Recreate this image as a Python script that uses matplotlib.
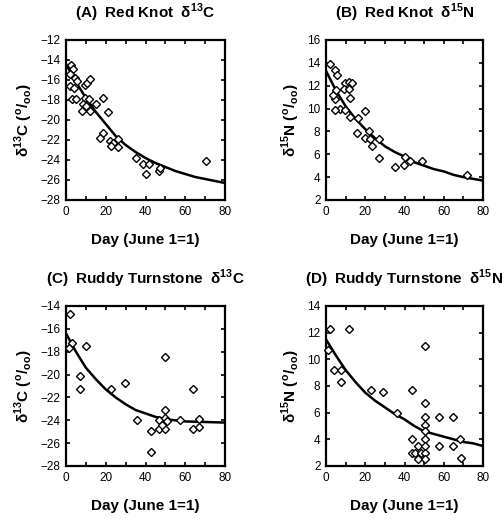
import numpy as np
import matplotlib
matplotlib.use("Agg")
import matplotlib.pyplot as plt
from matplotlib.ticker import MultipleLocator

plt.rcParams['font.family'] = ['Liberation Sans', 'DejaVu Sans']
plt.rcParams['mathtext.fontset'] = 'custom'
plt.rcParams['mathtext.rm'] = 'Liberation Sans'
plt.rcParams['mathtext.bf'] = 'Liberation Sans:bold'

# (A) Red Knot d13C
a_x = [2.3, 3.3, 2.0, 4.5, 5.7, 2.0, 4.0, 9.5, 10.7, 12.0, 2.8, 5.0, 9.5, 11.7, 8.7,
       10.3, 15.3, 18.7, 7.8, 12.0, 21.2, 18.7, 17.3, 22.0, 23.7, 26.2, 22.8, 26.2,
       35.3, 38.7, 42.0, 40.0, 47.0, 47.5, 70.3]
a_y = [-14.5, -14.9, -15.4, -15.8, -16.1, -16.6, -16.8, -16.5, -16.3, -15.9, -17.9, -17.9,
       -17.8, -17.9, -18.4, -18.6, -18.4, -17.8, -19.1, -19.1, -19.2, -21.3, -21.8, -22.1,
       -22.3, -21.9, -22.6, -22.7, -23.8, -24.4, -24.4, -25.4, -25.1, -24.8, -24.1]
a_fit_x = [0, 5, 10, 15, 20, 25, 30, 35, 40, 45, 50, 55, 60, 65, 70, 75, 80]
a_fit_y = [-14.4, -16.2, -17.8, -19.2, -20.4, -21.6, -22.5, -23.2, -23.8, -24.3, -24.7,
           -25.1, -25.4, -25.7, -25.9, -26.1, -26.3]

# (B) Red Knot d15N
b_x = [2.2, 4.8, 5.6, 9.9, 11.6, 13.3, 9.0, 11.6, 12.4, 4.8, 7.0, 9.9, 4.8, 12.1, 16.3,
       20.0, 15.8, 20.0, 21.8, 22.6, 23.5, 26.9, 26.9, 35.4, 39.7, 40.5, 43.0, 49.0, 72.0,
       3.7, 5.1]
b_y = [13.9, 13.4, 12.9, 12.2, 12.3, 12.2, 11.7, 11.7, 10.9, 10.8, 10.0, 9.9, 9.9, 9.3, 9.2,
       9.8, 7.9, 7.4, 8.0, 7.3, 6.7, 7.3, 5.7, 4.9, 5.1, 5.8, 5.4, 5.4, 4.2,
       11.2, 11.6]
b_fit_x = [0, 5, 10, 15, 20, 25, 30, 35, 40, 45, 50, 55, 60, 65, 70, 75, 80]
b_fit_y = [13.3, 11.6, 10.2, 9.1, 8.2, 7.4, 6.7, 6.2, 5.8, 5.3, 5.0, 4.7, 4.5, 4.2, 4.0,
           3.85, 3.7]

# (C) Ruddy Turnstone d13C
c_x = [2.0, 3.0, 1.5, 10.3, 6.8, 6.8, 22.7, 29.8, 35.7, 42.8, 42.8, 49.8, 49.8, 47.0,
       50.0, 51.0, 47.0, 50.0, 48.5, 57.3, 63.7, 63.7, 67.0, 67.0]
c_y = [-14.7, -17.2, -17.7, -17.5, -20.1, -21.3, -21.3, -20.7, -24.0, -24.9, -26.8, -18.5,
       -23.1, -24.0, -23.8, -24.1, -24.8, -24.8, -24.4, -24.0, -21.3, -24.8, -23.9, -24.6]
c_fit_x = [0, 5, 10, 15, 20, 25, 30, 35, 40, 45, 50, 55, 60, 70, 80]
c_fit_y = [-16.4, -18.0, -19.4, -20.4, -21.3, -22.0, -22.6, -23.1, -23.4, -23.7, -23.9,
           -24.0, -24.1, -24.15, -24.2]

# (D) Ruddy Turnstone d15N
d_x = [1.9, 11.6, 1.0, 3.9, 7.8, 7.7, 23.1, 29.1, 36.3, 43.6, 50.4, 50.4, 50.4, 57.5,
       64.7, 50.4, 50.4, 43.6, 50.4, 43.6, 47.0, 47.0, 45.5, 48.5, 50.4, 50.4, 50.4,
       57.5, 64.7, 68.3, 68.6]
d_y = [12.3, 12.3, 10.7, 9.2, 9.2, 8.3, 7.7, 7.55, 6.0, 7.7, 11.0, 6.7, 5.7, 5.65,
       5.65, 5.1, 4.6, 4.0, 4.0, 3.0, 3.5, 2.5, 3.0, 3.0, 3.5, 3.0, 2.5,
       3.5, 3.5, 4.0, 2.6]
d_fit_x = [0, 5, 10, 15, 20, 25, 30, 35, 40, 45, 50, 55, 60, 65, 70, 75, 80]
d_fit_y = [11.5, 10.3, 9.2, 8.3, 7.5, 6.9, 6.4, 5.9, 5.5, 5.0, 4.6, 4.4, 4.2, 4.0, 3.8,
           3.7, 3.5]

titles = [r'(A)  Red Knot  δ$^{\mathbf{13}}$C', r'(B)  Red Knot  δ$^{\mathbf{15}}$N',
          r'(C)  Ruddy Turnstone  δ$^{\mathbf{13}}$C', r'(D)  Ruddy Turnstone  δ$^{\mathbf{15}}$N']
ylabels = [r'δ$^{\mathbf{13}}$C ($^{\mathbf{o}}$/$_{\mathbf{oo}}$)',
           r'δ$^{\mathbf{15}}$N ($^{\mathbf{o}}$/$_{\mathbf{oo}}$)',
           r'δ$^{\mathbf{13}}$C ($^{\mathbf{o}}$/$_{\mathbf{oo}}$)',
           r'δ$^{\mathbf{15}}$N ($^{\mathbf{o}}$/$_{\mathbf{oo}}$)']
ylims = [(-28, -12), (2, 16), (-28, -14), (2, 14)]
data = [(a_x, a_y, a_fit_x, a_fit_y), (b_x, b_y, b_fit_x, b_fit_y),
        (c_x, c_y, c_fit_x, c_fit_y), (d_x, d_y, d_fit_x, d_fit_y)]

W, H = 504, 519
fig = plt.figure(figsize=(W / 100, H / 100), dpi=100)
boxes = [(66, 40, 225, 200), (326, 40, 483, 200), (66, 306, 225, 466), (326, 306, 483, 466)]

for i, (l, t, r, b) in enumerate(boxes):
    ax = fig.add_axes([l / W, 1 - b / H, (r - l) / W, (b - t) / H])
    px, py, fx, fy = data[i]
    ax.plot(fx, fy, color='black', lw=1.8, zorder=2)
    ax.plot(px, py, 'D', ms=3.6, mfc='white', mec='black', mew=1.0, zorder=3, clip_on=False)
    ax.set_xlim(0, 80)
    ax.set_ylim(*ylims[i])
    ax.xaxis.set_major_locator(MultipleLocator(20))
    ax.xaxis.set_minor_locator(MultipleLocator(10))
    ax.yaxis.set_major_locator(MultipleLocator(2))
    ax.tick_params(which='both', direction='in', top=True, right=True, width=1.2,
                   labelsize=8.5, pad=4, length=3)
    for s in ax.spines.values():
        s.set_linewidth(1.6)
    ax.set_title(titles[i], fontsize=11, fontweight='bold', pad=16)
    ax.set_xlabel('Day (June 1=1)', fontsize=11, fontweight='bold', labelpad=11)
    ax.set_ylabel(ylabels[i], fontsize=11, fontweight='bold', labelpad=4)

fig.savefig('out.png', dpi=100)
